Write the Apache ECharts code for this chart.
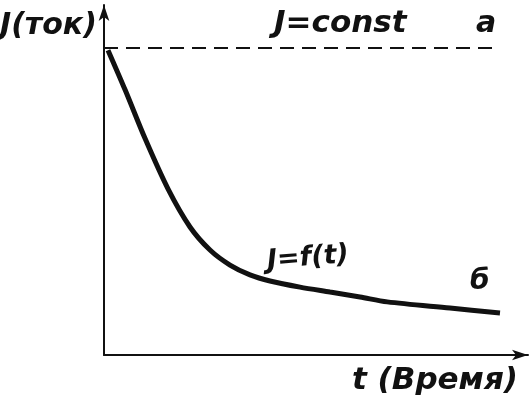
<!DOCTYPE html>
<html><head><meta charset="utf-8">
<script src="https://cdn.jsdelivr.net/npm/echarts@6/dist/echarts.min.js"></script>
<style>html,body{margin:0;padding:0;background:#fff}#c{width:531px;height:404px}</style>
</head><body><div id="c"></div>
<script>
// time (relative units) and current (relative units)
const tValues = [0.1, 0.53, 1.03, 1.6, 2.15, 2.65, 3.15, 3.65, 4.15, 4.9, 5.65, 6.4, 7.08, 8.65, 9.9];
const iValues = [9.93, 8.63, 7.04, 5.41, 4.17, 3.42, 2.93, 2.61, 2.41, 2.21, 2.05, 1.89, 1.73, 1.53, 1.37];
const constT = [0, 9.85];
const constI = [10, 10];
const labels = {y: 'J(ток)', x: 't (Время)', a: 'J=const', aTag: 'a', b: 'J=f(t)', bTag: 'б'};

const chart = echarts.init(document.getElementById('c'));
const txt = (text, x, y, size, rot) => ({
  type: 'text', x, y, rotation: rot || 0,
  style: {text, fontFamily: '"DejaVu Sans", sans-serif', fontStyle: 'italic',
    fontSize: size, fontWeight: 'bold', fill: '#111', textVerticalAlign: 'top'}
});
chart.setOption({
  animation: false,
  backgroundColor: '#fff',
  grid: {left: 104, right: 3, top: 5, bottom: 49},
  xAxis: {type: 'value', min: 0, max: 10.6, splitLine: {show: false},
    axisTick: {show: false}, axisLabel: {show: false},
    axisLine: {lineStyle: {color: '#111', width: 2}, symbol: ['none', 'arrow'], symbolSize: [8, 16]}},
  yAxis: {type: 'value', min: 0, max: 11.4, splitLine: {show: false},
    axisTick: {show: false}, axisLabel: {show: false},
    axisLine: {lineStyle: {color: '#111', width: 2}, symbol: ['none', 'arrow'], symbolSize: [8, 16]}},
  series: [
    {type: 'line', data: constT.map((t, i) => [t, constI[i]]), symbol: 'none',
      lineStyle: {color: '#111', width: 2, type: [14, 8]}},
    {type: 'line', smooth: 0.3, data: tValues.map((t, i) => [t, iValues[i]]), symbol: 'none',
      lineStyle: {color: '#111', width: 5}}
  ],
  graphic: [
    txt(labels.y, 0, 11, 30),
    txt(labels.a, 274, 8, 31),
    txt(labels.aTag, 476, 9, 30),
    txt(labels.b, 266, 248, 27, 0.08),
    txt(labels.bTag, 470, 268, 28),
    txt(labels.x, 352, 365, 31)
  ]
});
</script></body></html>
